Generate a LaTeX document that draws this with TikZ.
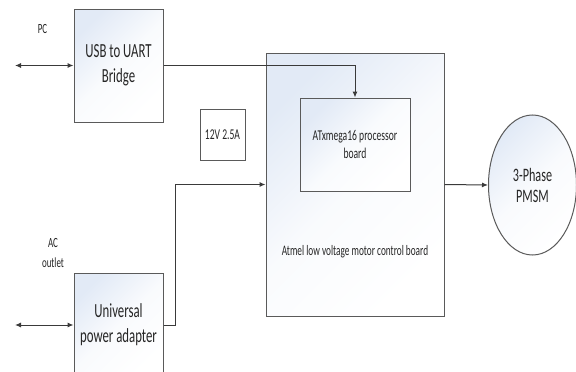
\documentclass[tikz,border=0pt]{standalone}
\usepackage{fontspec}
\setmainfont{Carlito}[FakeStretch=0.64]
\usetikzlibrary{arrows.meta,shapes.geometric}
\definecolor{linec}{HTML}{3A3A3A}
\definecolor{boxc}{HTML}{5A5A5A}
\definecolor{shadec}{HTML}{E2EAF6}
\definecolor{textc}{HTML}{262626}
\tikzset{
  softshade/.style={top color=shadec, bottom color=white, middle color=white!80!shadec, shading angle=45},
  blk/.style={draw=boxc, line width=1pt, softshade, minimum width=#1, inner sep=0pt, align=center, text=textc},
  conn/.style={draw=linec, line width=1pt, -{Latex[length=6pt,width=5pt]}},
  bicon/.style={draw=linec, line width=1pt, {Latex[length=6pt,width=5pt]}-{Latex[length=6pt,width=5pt]}},
  bigtxt/.style={font=\fontsize{20}{25}\selectfont},
  midtxt/.style={font=\fontsize{15}{18}\selectfont},
  smltxt/.style={font=\fontsize{14}{20}\selectfont, text=textc, align=center, inner sep=0pt},
}
\begin{document}
\begin{tikzpicture}[x=1pt,y=-1pt]
\useasboundingbox (0,0) rectangle (576,372);
\clip (0,0) rectangle (576,372);
\fill[white] (0,0) rectangle (576,372);
% blocks
\node[blk=89pt, minimum height=113pt, bigtxt] (usb) at (118.5,65.5) {USB to UART\\Bridge};
\node[blk=89pt, minimum height=104pt, bigtxt] (pwr) at (118.5,325) {Universal\\power adapter};
\node[draw=boxc, line width=1pt, fill=white, minimum width=45pt, minimum height=51pt, inner sep=0pt, text=textc, midtxt] (volt) at (222.5,134.5) {12V 2.5A};
\node[blk=178pt, minimum height=263pt] (main) at (355,184.5) {};
\node[blk=110pt, minimum height=93pt, midtxt] (proc) at (355,144.5) {ATxmega16 processor\\board};
\node[smltxt, font=\fontsize{14.5}{18}\selectfont] (mlabel) at (355,252) {Atmel low voltage motor control board};
\node[ellipse, draw=boxc, line width=1pt, softshade, minimum width=88pt, minimum height=140pt, inner sep=0pt, align=center, text=textc, font=\fontsize{19}{21}\selectfont] (motor) at (532.5,185) {3-Phase\\PMSM};
% labels
\node[smltxt] (pc) at (42.5,29) {PC};
\node[smltxt] (ac) at (53,253) {AC\\outlet};
% free ends
\coordinate (pcend) at (15,65.5);
\coordinate (acend) at (15,325);
% connectors
\draw[bicon] (pcend) -- (usb.west);
\draw[bicon] (acend) -- (pwr.west);
\draw[conn] (usb.east) -| (proc.north);
\draw[conn] (pwr.east) -- ++(12,0) |- (main.west);
\draw[conn] (main.east) -- (motor.west);
\end{tikzpicture}
\end{document}
